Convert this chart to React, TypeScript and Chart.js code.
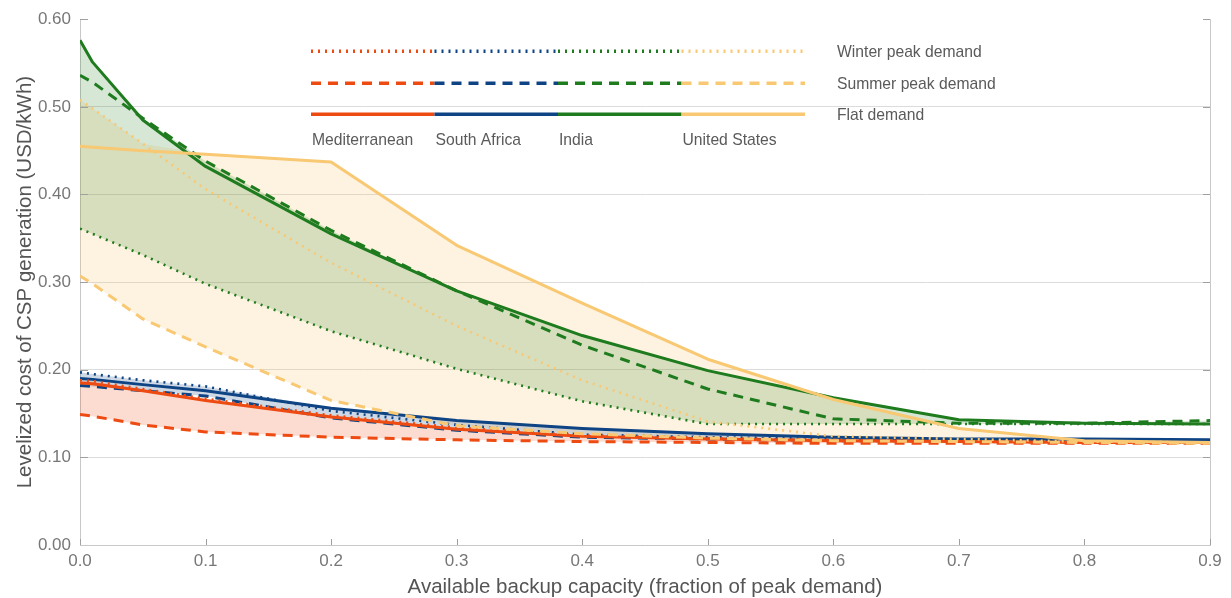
import React, { useEffect, useRef } from "react";
import { Chart, registerables } from "chart.js";

Chart.register(...registerables);

// ---------- data ----------
const xValues = [0, 0.01, 0.05, 0.1, 0.2, 0.3, 0.4, 0.5, 0.6, 0.7, 0.8, 0.9];

const medWinter = [0.188, 0.187, 0.178, 0.167, 0.148, 0.134, 0.125, 0.122, 0.12, 0.118, 0.117, 0.117];
const medSummer = [0.149, 0.147, 0.137, 0.129, 0.123, 0.12, 0.118, 0.117, 0.116, 0.116, 0.116, 0.116];
const medFlat = [0.185, 0.184, 0.176, 0.165, 0.146, 0.132, 0.124, 0.121, 0.119, 0.118, 0.117, 0.117];

const saWinter = [0.197, 0.195, 0.188, 0.181, 0.153, 0.137, 0.126, 0.123, 0.121, 0.12, 0.119, 0.119];
const saSummer = [0.182, 0.181, 0.176, 0.17, 0.145, 0.131, 0.123, 0.121, 0.119, 0.119, 0.118, 0.118];
const saFlat = [0.19, 0.189, 0.183, 0.176, 0.156, 0.142, 0.133, 0.127, 0.123, 0.121, 0.121, 0.12];

const indiaWinter = [0.361, 0.355, 0.331, 0.298, 0.244, 0.201, 0.164, 0.138, 0.138, 0.138, 0.138, 0.138];
const indiaSummer = [0.536, 0.528, 0.487, 0.438, 0.359, 0.29, 0.228, 0.178, 0.144, 0.139, 0.139, 0.142];
const indiaFlat = [0.576, 0.551, 0.485, 0.432, 0.355, 0.29, 0.239, 0.199, 0.168, 0.143, 0.139, 0.138];

const usWinter = [0.508, 0.498, 0.458, 0.406, 0.322, 0.25, 0.188, 0.141, 0.124, 0.121, 0.118, 0.117];
const usSummer = [0.307, 0.298, 0.258, 0.226, 0.165, 0.136, 0.127, 0.122, 0.119, 0.118, 0.117, 0.116];
const usFlat = [0.455, 0.454, 0.45, 0.446, 0.437, 0.342, 0.276, 0.212, 0.166, 0.133, 0.119, 0.117];

const regionNames = ["Mediterranean", "South Africa", "India", "United States"];
const demandNames = ["Winter peak demand", "Summer peak demand", "Flat demand"];

const yTickValues = [0, 0.1, 0.2, 0.3, 0.4, 0.5, 0.6];
const xTickValues = [0, 0.1, 0.2, 0.3, 0.4, 0.5, 0.6, 0.7, 0.8, 0.9];

const yTitle = "Levelized cost of CSP generation (USD/kWh)";
const xTitle = "Available backup capacity (fraction of peak demand)";

// ---------- styles ----------
const FONT = "'Liberation Sans', Arial, Helvetica, sans-serif";
const lineColors = ["#EE4B12", "#0E4384", "#1E7B1E", "#F9C873"];
const fillColors = [
  "rgba(240,75,18,0.20)",
  "rgba(14,67,132,0.20)",
  "rgba(30,123,30,0.18)",
  "rgba(249,200,115,0.22)",
];
const DOTTED = [2, 5];
const DASHED = [10, 7];
const dashes = [DOTTED, DASHED, []];

const seriesByRegion = [
  [medWinter, medSummer, medFlat],
  [saWinter, saSummer, saFlat],
  [indiaWinter, indiaSummer, indiaFlat],
  [usWinter, usSummer, usFlat],
];
// drawing order (lower = on top)
const regionOrder = [2, 3, 4, 1];

function toPoints(vals: number[]) {
  return xValues.map((x, i) => ({ x, y: vals[i] }));
}

function buildDatasets() {
  const ds: any[] = [];
  seriesByRegion.forEach((series, r) => {
    const upper = xValues.map((x, i) => ({ x, y: Math.max(series[0][i], series[1][i], series[2][i]) }));
    const lower = xValues.map((x, i) => ({ x, y: Math.min(series[0][i], series[1][i], series[2][i]) }));
    ds.push({
      data: upper,
      fill: "+1",
      backgroundColor: fillColors[r],
      borderWidth: 0,
      borderColor: "transparent",
      pointRadius: 0,
      order: 100,
    });
    ds.push({
      data: lower,
      fill: false,
      borderWidth: 0,
      borderColor: "transparent",
      pointRadius: 0,
      order: 101,
    });
  });
  seriesByRegion.forEach((series, r) => {
    series.forEach((vals, k) => {
      ds.push({
        data: toPoints(vals),
        fill: false,
        borderColor: lineColors[r],
        borderWidth: k === 0 ? 2.6 : 3,
        borderDash: dashes[k],
        borderCapStyle: "butt",
        borderJoinStyle: "round",
        pointRadius: 0,
        tension: 0,
        order: regionOrder[r] * 10 + (2 - k),
      });
    });
  });
  return ds;
}

const framePlugin = {
  id: "frame",
  beforeDatasetsDraw(chart: any) {
    const { ctx, chartArea: a, scales } = chart;
    ctx.save();
    ctx.strokeStyle = "#c8c8c8";
    ctx.lineWidth = 1;
    ctx.beginPath();
    ctx.moveTo(a.right + 0.5, a.top);
    ctx.lineTo(a.right + 0.5, a.bottom);
    ctx.stroke();
    ctx.strokeStyle = "#a0a0a0";
    ctx.beginPath();
    yTickValues.forEach((v) => {
      const y = Math.round(scales.y.getPixelForValue(v)) + 0.5;
      if (v === 0) return;
      ctx.moveTo(a.left, y);
      ctx.lineTo(a.left + 8, y);
      ctx.moveTo(a.right - 7, y);
      ctx.lineTo(a.right, y);
    });
    xTickValues.forEach((v) => {
      const x = Math.round(scales.x.getPixelForValue(v)) + 0.5;
      ctx.moveTo(x, a.bottom);
      ctx.lineTo(x, a.bottom - 6);
    });
    ctx.stroke();
    ctx.restore();
  },
};

const legendPlugin = {
  id: "customLegend",
  afterDatasetsDraw(chart: any) {
    const { ctx, chartArea: a } = chart;
    const x0 = a.left + 231;
    const segW = 123.5;
    const rowsY = [a.top + 32, a.top + 64, a.top + 95];
    ctx.save();
    rowsY.forEach((y, k) => {
      for (let r = 0; r < 4; r++) {
        ctx.beginPath();
        ctx.strokeStyle = lineColors[r];
        ctx.lineWidth = 3.5;
        ctx.lineCap = "butt";
        ctx.setLineDash(dashes[k]);
        ctx.moveTo(x0 + r * segW, y);
        ctx.lineTo(x0 + (r + 1) * segW, y);
        ctx.stroke();
      }
      ctx.setLineDash([]);
      ctx.fillStyle = "#5a5a5a";
      ctx.font = `15.7px ${FONT}`;
      ctx.textAlign = "left";
      ctx.textBaseline = "middle";
      ctx.fillText(demandNames[k], x0 + 4 * segW + 32, y + 1);
    });
    ctx.fillStyle = "#5a5a5a";
    ctx.font = `15.7px ${FONT}`;
    ctx.textAlign = "left";
    ctx.textBaseline = "middle";
    regionNames.forEach((name, r) => {
      ctx.fillText(name, x0 + r * segW + 1, a.top + 121);
    });
    ctx.restore();
  },
};

export default function App() {
  const canvasRef = useRef<HTMLCanvasElement | null>(null);

  useEffect(() => {
    const canvas = canvasRef.current;
    if (!canvas) return;
    const chart = new Chart(canvas, {
      type: "line",
      data: { datasets: buildDatasets() },
      options: {
        animation: false,
        responsive: false,
        devicePixelRatio: 1,
        layout: { padding: { top: 18, right: 21, left: 0, bottom: 0 } },
        plugins: {
          legend: { display: false },
          tooltip: { enabled: false },
          filler: { drawTime: "beforeDatasetsDraw" } as any,
        },
        scales: {
          x: {
            type: "linear",
            min: 0,
            max: 0.9,
            afterFit: (s: any) => {
              s.height = 53;
            },
            afterBuildTicks: (s: any) => {
              s.ticks = xTickValues.map((v) => ({ value: v }));
            },
            grid: { display: false, drawTicks: false },
            border: { display: true, color: "#c8c8c8", width: 1 },
            ticks: {
              padding: 6,
              color: "#777",
              font: { family: FONT, size: 17 },
              maxRotation: 0,
              callback: (v: any) => Number(v).toFixed(1),
            },
            title: {
              display: true,
              text: xTitle,
              color: "#555",
              font: { family: FONT, size: 20.5, lineHeight: 1 },
              padding: { top: 0, bottom: 0 },
            },
          },
          y: {
            type: "linear",
            min: 0,
            max: 0.6,
            afterFit: (s: any) => {
              s.width = 80;
            },
            afterBuildTicks: (s: any) => {
              s.ticks = yTickValues.map((v) => ({ value: v }));
            },
            grid: {
              drawTicks: false,
              color: (c: any) => (c.tick && c.tick.value > 0.59 ? "transparent" : "#dcdcdc"),
              lineWidth: 1,
            },
            border: { display: true, color: "#c8c8c8", width: 1 },
            ticks: {
              padding: 9,
              color: "#777",
              font: { family: FONT, size: 17 },
              callback: (v: any) => Number(v).toFixed(2),
            },
            title: {
              display: true,
              text: yTitle,
              color: "#555",
              font: { family: FONT, size: 20.5 },
              padding: { top: 13.5, bottom: 0 },
            },
          },
        },
      },
      plugins: [framePlugin, legendPlugin],
    });
    return () => chart.destroy();
  }, []);

  return (
    <div style={{ position: "fixed", left: 0, top: 0, width: 1231, height: 598, background: "#fff" }}>
      <canvas ref={canvasRef} width={1231} height={598} style={{ width: 1231, height: 598, display: "block" }} />
    </div>
  );
}
